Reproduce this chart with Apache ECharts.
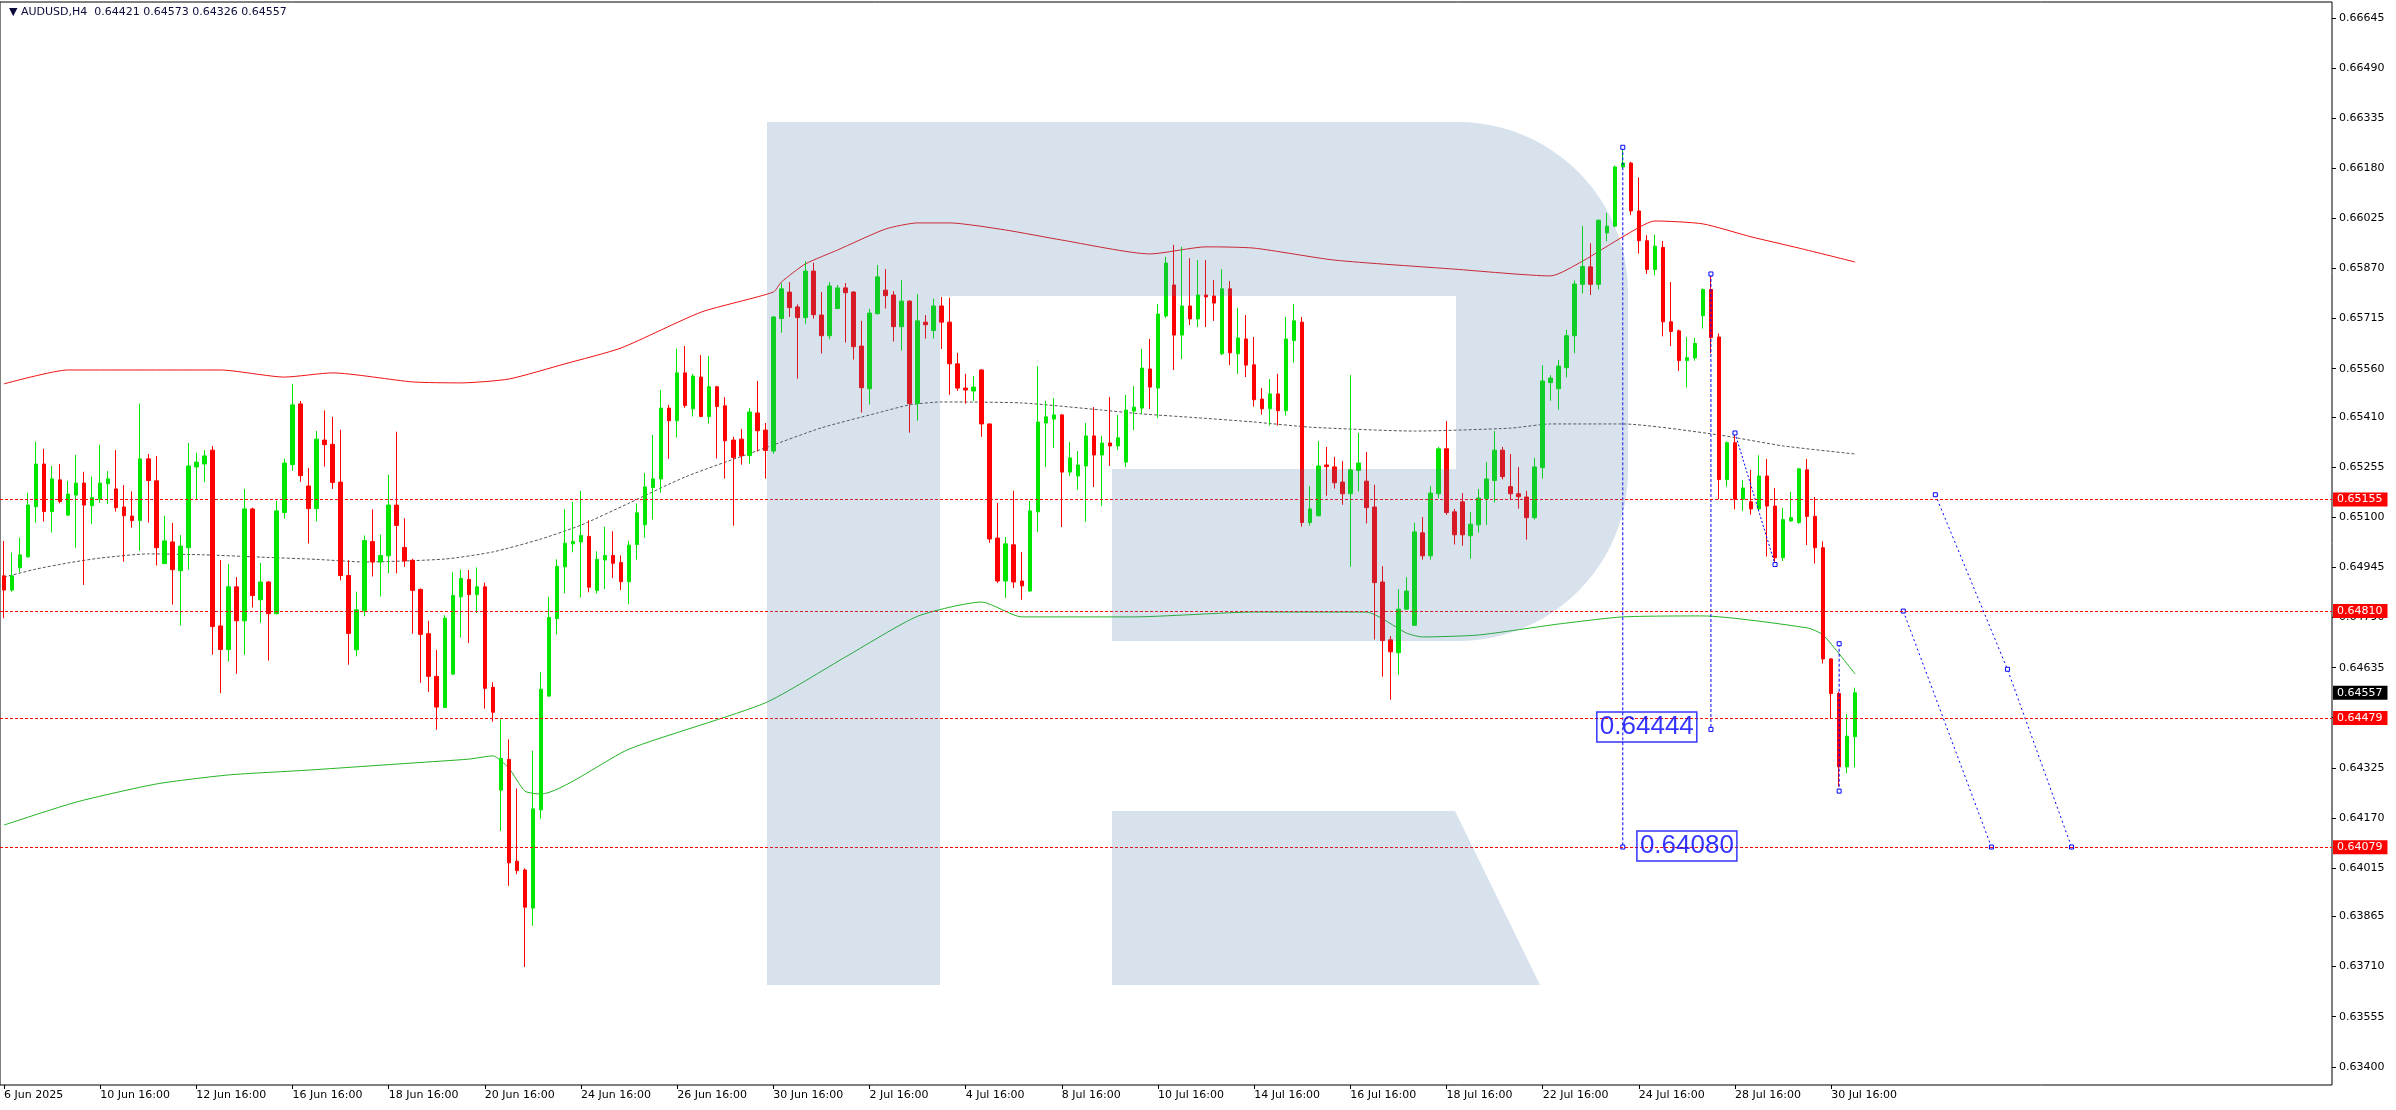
<!DOCTYPE html>
<html><head><meta charset="utf-8">
<script src="https://cdn.jsdelivr.net/npm/echarts@6/dist/echarts.min.js"></script>
<style>html,body{margin:0;padding:0;background:#fff}#c{width:2396px;height:1110px}</style>
</head><body><div id="c"></div>
<script>
const symbolName = 'AUDUSD', timeframe = 'H4';
const open = [0.64919,0.64875,0.64944,0.64978,0.65133,0.65265,0.65118,0.65216,0.65107,0.65169,
0.65206,0.65136,0.65156,0.65204,0.65188,0.65132,0.65104,0.65090,0.65281,0.65213,
0.64957,0.65024,0.64935,0.65006,0.65256,0.65265,0.65308,0.64764,0.64691,0.64885,
0.64780,0.65126,0.64845,0.64900,0.64802,0.65115,0.65263,0.65451,0.65197,0.65127,
0.65339,0.65326,0.65209,0.64920,0.64690,0.64811,0.65025,0.64962,0.64981,0.65138,
0.65007,0.64967,0.64877,0.64740,0.64608,0.64512,0.64615,0.64854,0.64908,0.64861,
0.64885,0.64574,0.64256,0.64351,0.64036,0.64009,0.63891,0.64195,0.64547,0.64787,
0.64947,0.65018,0.65024,0.65041,0.64874,0.64968,0.64982,0.64960,0.64901,0.65016,
0.65077,0.65192,0.65219,0.65438,0.65399,0.65547,0.65436,0.65534,0.65412,0.65504,
0.65445,0.65339,0.65342,0.65291,0.65423,0.65370,0.65305,0.65715,0.65797,0.65751,
0.65718,0.65862,0.65726,0.65662,0.65746,0.65810,0.65797,0.65630,0.65498,0.65730,
0.65803,0.65788,0.65690,0.65769,0.65452,0.65704,0.65678,0.65754,0.65704,0.65575,
0.65500,0.65491,0.65556,0.65389,0.65036,0.64903,0.65015,0.64903,0.64872,0.65117,
0.65392,0.65404,0.65417,0.65240,0.65228,0.65259,0.65352,0.65293,0.65330,0.65321,
0.65271,0.65429,0.65438,0.65559,0.65500,0.65723,0.65819,0.65664,0.65754,0.65714,
0.65788,0.65785,0.65606,0.65807,0.65606,0.65652,0.65572,0.65466,0.65436,0.65482,
0.65430,0.65647,0.65704,0.65084,0.65105,0.65262,0.65256,0.65209,0.65173,0.65245,
0.65212,0.65132,0.64900,0.64721,0.64681,0.64816,0.64766,0.65052,0.64981,0.65173,
0.65312,0.65117,0.65148,0.65043,0.65077,0.65158,0.65214,0.65308,0.65195,0.65173,
0.65163,0.65099,0.65254,0.65517,0.65498,0.65563,0.65662,0.65821,0.65875,0.65821,
0.65980,0.66001,0.66184,0.66196,0.66048,0.65956,0.65867,0.65935,0.65705,0.65677,
0.65585,0.65593,0.65724,0.65805,0.65658,0.65217,0.65331,0.65156,0.65148,0.65126,
0.65228,0.65135,0.64975,0.65089,0.65084,0.65247,0.65103,0.65006,0.64662,0.64555,
0.64328,0.64421];
const high = [0.65027,0.64991,0.65037,0.65176,0.65334,0.65312,0.65259,0.65265,0.65213,0.65293,
0.65241,0.65226,0.65324,0.65243,0.65308,0.65200,0.65180,0.65452,0.65296,0.65290,
0.65105,0.65083,0.65045,0.65330,0.65300,0.65308,0.65321,0.64968,0.64956,0.64915,
0.65188,0.65130,0.64959,0.64903,0.65151,0.65282,0.65513,0.65460,0.65253,0.65367,
0.65431,0.65411,0.65371,0.64967,0.64870,0.65044,0.65125,0.65047,0.65232,0.65365,
0.65097,0.64972,0.64880,0.64780,0.64690,0.64797,0.64930,0.64938,0.64937,0.64945,
0.64898,0.64590,0.64475,0.64413,0.64261,0.64014,0.64378,0.64621,0.64854,0.64970,
0.65125,0.65148,0.65182,0.65091,0.64995,0.65071,0.65057,0.64982,0.65027,0.65143,
0.65237,0.65355,0.65494,0.65448,0.65622,0.65630,0.65544,0.65602,0.65599,0.65507,
0.65472,0.65349,0.65373,0.65438,0.65522,0.65392,0.65722,0.65824,0.65828,0.65759,
0.65893,0.65888,0.65797,0.65828,0.65819,0.65825,0.65800,0.65708,0.65745,0.65881,
0.65868,0.65800,0.65834,0.65772,0.65791,0.65726,0.65776,0.65782,0.65779,0.65609,
0.65544,0.65537,0.65558,0.65390,0.65145,0.65039,0.65182,0.64993,0.65151,0.65568,
0.65460,0.65469,0.65420,0.65333,0.65305,0.65392,0.65441,0.65352,0.65472,0.65417,
0.65479,0.65506,0.65621,0.65652,0.65760,0.65906,0.65943,0.65937,0.65902,0.65896,
0.65896,0.65834,0.65868,0.65831,0.65748,0.65726,0.65658,0.65500,0.65528,0.65544,
0.65720,0.65760,0.65720,0.65197,0.65336,0.65318,0.65287,0.65274,0.65540,0.65361,
0.65302,0.65201,0.64949,0.64733,0.64878,0.64915,0.65083,0.65101,0.65197,0.65318,
0.65398,0.65126,0.65175,0.65117,0.65188,0.65271,0.65367,0.65318,0.65296,0.65256,
0.65182,0.65284,0.65571,0.65540,0.65587,0.65680,0.65833,0.66001,0.65948,0.66022,
0.66042,0.66189,0.66245,0.66200,0.66152,0.65973,0.65975,0.65955,0.65828,0.65681,
0.65658,0.65655,0.65808,0.65853,0.65669,0.65335,0.65361,0.65216,0.65247,0.65292,
0.65281,0.65191,0.65129,0.65179,0.65253,0.65281,0.65163,0.65026,0.64665,0.64560,
0.64491,0.64573];
const low = [0.64788,0.64870,0.64930,0.64975,0.65084,0.65087,0.65053,0.65143,0.65104,0.65006,
0.64891,0.65079,0.65145,0.65141,0.65118,0.64963,0.65068,0.64997,0.65084,0.64951,
0.64955,0.64830,0.64765,0.64938,0.65157,0.65209,0.64675,0.64556,0.64654,0.64616,
0.64675,0.64821,0.64774,0.64657,0.64800,0.65096,0.65244,0.65210,0.65019,0.65087,
0.65257,0.65188,0.64905,0.64644,0.64670,0.64794,0.64917,0.64855,0.64927,0.64927,
0.64947,0.64740,0.64588,0.64560,0.64443,0.64510,0.64612,0.64728,0.64711,0.64804,
0.64508,0.64468,0.64130,0.63960,0.63996,0.63709,0.63836,0.64168,0.64545,0.64738,
0.64865,0.64992,0.64852,0.64868,0.64864,0.64878,0.64912,0.64875,0.64831,0.64969,
0.65037,0.65093,0.65176,0.65281,0.65347,0.65439,0.65412,0.65410,0.65390,0.65282,
0.65220,0.65074,0.65263,0.65266,0.65304,0.65220,0.65297,0.65671,0.65720,0.65529,
0.65699,0.65715,0.65607,0.65651,0.65744,0.65641,0.65588,0.65424,0.65449,0.65728,
0.65746,0.65644,0.65616,0.65362,0.65399,0.65653,0.65653,0.65621,0.65479,0.65491,
0.65452,0.65460,0.65349,0.65021,0.64897,0.64851,0.64881,0.64845,0.64870,0.65055,
0.65256,0.65315,0.65070,0.65228,0.65185,0.65086,0.65194,0.65135,0.65259,0.65308,
0.65256,0.65370,0.65420,0.65435,0.65407,0.65717,0.65556,0.65590,0.65695,0.65689,
0.65689,0.65708,0.65602,0.65571,0.65544,0.65534,0.65443,0.65418,0.65384,0.65384,
0.65415,0.65579,0.65071,0.65074,0.65103,0.65167,0.65189,0.65139,0.64947,0.65180,
0.65081,0.64722,0.64607,0.64536,0.64613,0.64814,0.64764,0.64969,0.64969,0.65158,
0.65108,0.65016,0.65012,0.64972,0.65053,0.65077,0.65146,0.65217,0.65155,0.65127,
0.65031,0.65093,0.65220,0.65461,0.65433,0.65533,0.65608,0.65793,0.65788,0.65805,
0.65954,0.65998,0.66180,0.66035,0.65916,0.65853,0.65849,0.65660,0.65630,0.65553,
0.65502,0.65585,0.65684,0.65608,0.65156,0.65195,0.65125,0.65120,0.65108,0.65123,
0.64979,0.64954,0.64965,0.65087,0.65080,0.65014,0.64957,0.64648,0.64478,0.64267,
0.64308,0.64326];
const close = [0.64875,0.64919,0.64984,0.65138,0.65265,0.65118,0.65219,0.65149,0.65172,0.65206,
0.65138,0.65161,0.65206,0.65219,0.65130,0.65105,0.65090,0.65281,0.65214,0.65006,
0.65027,0.64938,0.65011,0.65259,0.65271,0.65290,0.64762,0.64691,0.64885,0.64780,
0.65126,0.64858,0.64900,0.64802,0.65120,0.65268,0.65448,0.65229,0.65127,0.65342,
0.65325,0.65208,0.64920,0.64741,0.64814,0.65028,0.64962,0.64982,0.65138,0.65075,
0.64965,0.64874,0.64738,0.64608,0.64513,0.64788,0.64858,0.64911,0.64861,0.64885,
0.64571,0.64497,0.64354,0.64031,0.64007,0.63894,0.64198,0.64568,0.64790,0.64948,
0.65020,0.65025,0.65044,0.64884,0.64970,0.64982,0.64958,0.64901,0.65014,0.65114,
0.65194,0.65219,0.65438,0.65399,0.65547,0.65446,0.65537,0.65412,0.65504,0.65443,
0.65337,0.65285,0.65291,0.65426,0.65368,0.65307,0.65720,0.65807,0.65749,0.65718,
0.65862,0.65727,0.65662,0.65816,0.65810,0.65795,0.65628,0.65501,0.65732,0.65844,
0.65786,0.65690,0.65769,0.65452,0.65708,0.65696,0.65754,0.65704,0.65575,0.65500,
0.65494,0.65503,0.65389,0.65033,0.64903,0.65018,0.64900,0.64888,0.65120,0.65395,
0.65411,0.65417,0.65240,0.65284,0.65262,0.65352,0.65293,0.65330,0.65321,0.65346,
0.65432,0.65441,0.65562,0.65503,0.65729,0.65887,0.65664,0.65754,0.65714,0.65788,
0.65782,0.65763,0.65807,0.65609,0.65655,0.65571,0.65464,0.65436,0.65482,0.65430,
0.65652,0.65708,0.65084,0.65126,0.65259,0.65257,0.65207,0.65173,0.65247,0.65268,
0.65130,0.64898,0.64719,0.64684,0.64816,0.64872,0.65055,0.64981,0.65175,0.65312,
0.65115,0.65046,0.65046,0.65079,0.65160,0.65219,0.65308,0.65226,0.65173,0.65164,
0.65099,0.65256,0.65522,0.65531,0.65568,0.65662,0.65822,0.65876,0.65821,0.66019,
0.66001,0.66184,0.66196,0.66048,0.65956,0.65867,0.65939,0.65705,0.65675,0.65585,
0.65594,0.65638,0.65805,0.65656,0.65217,0.65331,0.65156,0.65191,0.65126,0.65228,
0.65135,0.64975,0.65093,0.65099,0.65250,0.65103,0.65006,0.64662,0.64555,0.64328,
0.64423,0.64557];

// indicator lines: [bar index, price]
const upperLine = [[0,0.65513],[8,0.65556],[27,0.65556],[35,0.65534],[41,0.65547],[51,0.65519],[57,0.65516],[63,0.65528],[70,0.65575],[77,0.65624],[87,0.65735],[96,0.65797],[97,0.65828],[100,0.65884],[104,0.65927],[110,0.65992],[114,0.66011],[118,0.66011],[125,0.65989],[132,0.65958],[143,0.65915],[150,0.65937],[156,0.65933],[166,0.65896],[181,0.65868],[193,0.65847],[197,0.65893],[202,0.65968],[206,0.66017],[212,0.66008],[218,0.65968],[224,0.65933],[231,0.65890]];
const middleLine = [[0,0.64915],[4,0.64940],[8,0.64959],[12,0.64974],[18,0.64987],[25,0.64984],[32,0.64977],[39,0.64970],[45,0.64962],[55,0.64971],[61,0.64993],[67,0.65033],[72,0.65076],[78,0.65144],[85,0.65225],[95,0.65315],[102,0.65377],[109,0.65423],[113,0.65448],[117,0.65457],[127,0.65454],[137,0.65432],[142,0.65420],[149,0.65408],[156,0.65395],[163,0.65379],[176,0.65367],[188,0.65376],[193,0.65389],[202,0.65389],[214,0.65355],[222,0.65321],[231,0.65296]];
const lowerLine = [[0,0.64148],[9,0.64219],[19,0.64275],[28,0.64303],[38,0.64318],[51,0.64340],[58,0.64352],[61,0.64362],[63,0.64324],[65,0.64253],[67,0.64244],[78,0.64383],[95,0.64526],[105,0.64668],[114,0.64794],[122,0.64838],[127,0.64792],[141,0.64792],[156,0.64807],[170,0.64807],[175,0.64742],[177,0.64730],[184,0.64736],[194,0.64770],[202,0.64792],[212,0.64795],[225,0.64758],[227,0.64736],[231,0.64615]];

// horizontal levels and drawn objects
const levels = [0.65155, 0.64810, 0.64479, 0.64079];
const drawV1 = [[202,0.66245],[202,0.64080]];
const drawV2 = [[213,0.65853],[213,0.64444]];
const drawDiag = [[216,0.65361],[221,0.64954]];
const drawV3 = [[229,0.64709],[229,0.64253]];
const proj1 = [[241,0.65170],[250,0.64630],[258,0.64080]];
const proj2 = [[237,0.64810],[248,0.64080]];
const targetLabels = [{value:[205,0.64451], name:'0.64444'},{value:[210,0.64083], name:'0.64080'}];

const yTicks = [0.66645,0.66490,0.66335,0.66180,0.66025,0.65870,0.65715,0.65560,0.65410,0.65255,0.65100,0.64945,0.64790,0.64635,0.64480,0.64325,0.64170,0.64015,0.63865,0.63710,0.63555,0.63400];
const xTickLabels = ['6 Jun 2025','10 Jun 16:00','12 Jun 16:00','16 Jun 16:00','18 Jun 16:00','20 Jun 16:00','24 Jun 16:00','26 Jun 16:00','30 Jun 16:00','2 Jul 16:00','4 Jul 16:00','8 Jul 16:00','10 Jul 16:00','14 Jul 16:00','16 Jul 16:00','18 Jul 16:00','22 Jul 16:00','24 Jul 16:00','28 Jul 16:00','30 Jul 16:00'];

// H4 category slots (trading days only), including empty future space
const MONTHS = ['Jan','Feb','Mar','Apr','May','Jun','Jul','Aug','Sep','Oct','Nov','Dec'];
const N_SLOTS = 291;
const categories = [];
let t = Date.UTC(2025,5,6,16);
while (categories.length < N_SLOTS) {
  const d = new Date(t);
  categories.push(d.getUTCDate()+' '+MONTHS[d.getUTCMonth()]+' '+String(d.getUTCHours()).padStart(2,'0')+':00');
  do { t += 4*3600e3; } while ([0,6].includes(new Date(t).getUTCDay()));
}
const tickSet = new Set(xTickLabels);
const showTick = (idx, val) => idx === 0 || tickSet.has(val);

const last = close.length - 1;
const header = '\u25BC ' + symbolName + ',' + timeframe + '  ' + [open[last],high[last],low[last],close[last]].map(v=>v.toFixed(5)).join(' ');
const candleData = open.map((o,i)=>[o, close[i], low[i], high[i]]);

// decorative watermark (R logo)
function arc(cx, cy, r, a0, a1, n) { const p=[]; for(let k=0;k<=n;k++){const a=a0+(a1-a0)*k/n; p.push([cx+r*Math.cos(a), cy+r*Math.sin(a)]);} return p; }
const rMain = [[767,122],[1458,122]].concat(arc(1458,292,170,-Math.PI/2,0,24)).concat(arc(1458,471,170,0,Math.PI/2,24)).concat([[1112,641],[1112,469],[1456,469],[1456,296],[940,296],[940,985],[767,985]]);
const rLeg = [[1112,811],[1455,811],[1540,985],[1112,985]];
const wmFill = 'rgba(75,125,175,0.22)';

const FONT = 'DejaVu Sans';
const blue = '#0000FF';
const blueMarker = {color:'#fff', borderColor: blue, borderWidth: 1};
function blueLine(data, dash) {
  return {type:'line', data, showSymbol:true, symbol:'rect', symbolSize:4, itemStyle: blueMarker,
    lineStyle:{color: blue, width:1, type: dash}, z:4, silent:true};
}
const priceTagLabel = {show:true, position:'end', distance:1, formatter: p => Number(p.value).toFixed(5), color:'#fff', padding:[2,5,1,4], fontSize:11, fontFamily: FONT};

const chart = echarts.init(document.getElementById('c'), null, {renderer:'canvas'});
chart.setOption({
  animation: false,
  backgroundColor: '#fff',
  title: {text: header, left: 4, top: 2, textStyle: {fontSize: 11, fontWeight: 'normal', color: '#0b0b3b', fontFamily: FONT}},
  grid: {left: 0, right: 64, top: 2, bottom: 25, show: true, borderColor: '#000', borderWidth: 1, backgroundColor: 'transparent', containLabel: false, outerBoundsMode: 'none'},
  xAxis: {type:'category', data: categories, boundaryGap: true,
    axisLine: {show:false},
    axisTick: {show:true, alignWithLabel:true, interval: showTick, length: 4, lineStyle:{color:'#000'}},
    axisLabel: {interval: showTick, align:'left', margin: 5, fontSize: 11, color:'#000', fontFamily: FONT,
      formatter: (v, i) => i === 0 ? xTickLabels[0] : v},
    splitLine: {show:false}},
  yAxis: {type:'value', position:'right', min: 0.633437, max: 0.666945, scale: true,
    axisLine: {show:false}, splitLine: {show:false},
    axisTick: {show:true, length:4, lineStyle:{color:'#000'}, customValues: yTicks},
    axisLabel: {customValues: yTicks, formatter: v => v.toFixed(5), fontSize: 11, color:'#000', fontFamily: FONT, margin: 7}},
  graphic: {elements: [
    {type:'polygon', shape:{points: rMain}, style:{fill: wmFill}, z: 100, silent: true},
    {type:'polygon', shape:{points: rLeg}, style:{fill: wmFill}, z: 100, silent: true}
  ]},
  series: [
    {type:'line', data: upperLine, showSymbol:false, smooth:0.2, lineStyle:{color:'#EE1111', width:1}, z:1, silent:true},
    {type:'line', data: middleLine, showSymbol:false, smooth:0.2, lineStyle:{color:'#555', width:1, type:[3,2]}, z:1, silent:true},
    {type:'line', data: lowerLine, showSymbol:false, smooth:0.2, lineStyle:{color:'#22B422', width:1}, z:1, silent:true,
      markLine: {symbol:['none','none'], silent:true, animation:false, precision: 5,
        lineStyle:{color:'transparent', width:0},
        label: Object.assign({}, priceTagLabel, {backgroundColor:'#000'}),
        data: [{yAxis: close[last]}]}},
    {type:'candlestick', data: candleData, barWidth: 4, z: 2, silent: true,
      itemStyle: {color:'#00E600', color0:'#FF0000', borderColor:'#00E600', borderColor0:'#FF0000', borderWidth:1},
      markLine: {symbol:['none','none'], silent:true, animation:false, precision: 5,
        lineStyle:{color:'#FF0000', width:1, type:[3,2]},
        label: Object.assign({}, priceTagLabel, {backgroundColor:'#FF0000'}),
        data: levels.map(v => ({yAxis: v}))}},
    blueLine(drawV1, [3,2]),
    blueLine(drawV2, [3,2]),
    blueLine(drawDiag, [2,2]),
    blueLine(drawV3, [3,2]),
    blueLine(proj1, [2,3]),
    blueLine(proj2, [2,3]),
    {type:'scatter', data: targetLabels, symbolSize: 1, itemStyle:{color:'transparent'}, z: 5, silent: true,
      label:{show:true, position:'inside', formatter: p => p.name, fontSize: 26, lineHeight: 28, color: blue, fontFamily:'Liberation Sans',
        borderColor: blue, borderWidth: 1.5, padding:[1,3,1,3]}}
  ]
});
</script>
</body></html>
